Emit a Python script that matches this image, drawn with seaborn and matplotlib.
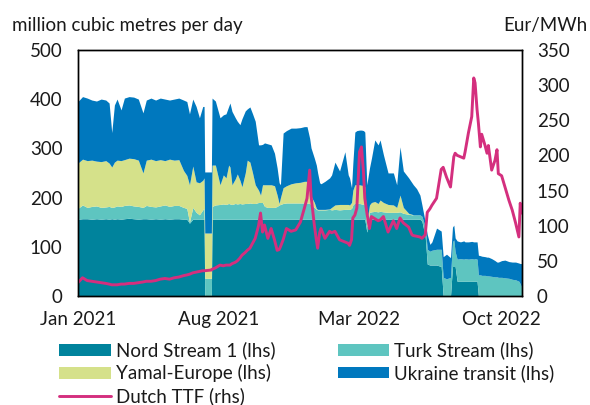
import numpy as np
import pandas as pd
import matplotlib
matplotlib.use("Agg")
import matplotlib.pyplot as plt
from matplotlib.patches import Patch
from matplotlib.lines import Line2D
import seaborn as sns

dates = [
    "2021-01-01", "2021-01-08", "2021-01-15", "2021-01-22", "2021-01-29", "2021-02-05", "2021-02-12",
    "2021-02-17", "2021-02-21", "2021-02-25", "2021-03-01", "2021-03-07", "2021-03-12", "2021-03-19",
    "2021-03-26", "2021-04-02", "2021-04-09", "2021-04-14", "2021-04-21", "2021-04-28", "2021-05-05",
    "2021-05-12", "2021-05-19", "2021-05-26", "2021-06-02", "2021-06-09", "2021-06-14", "2021-06-18",
    "2021-06-23", "2021-06-28", "2021-07-03", "2021-07-08", "2021-07-10", "2021-07-11", "2021-07-21",
    "2021-07-22", "2021-07-27", "2021-08-03", "2021-08-08", "2021-08-12", "2021-08-16", "2021-08-18",
    "2021-08-21", "2021-08-26", "2021-08-29", "2021-09-02", "2021-09-05", "2021-09-10", "2021-09-13",
    "2021-09-17", "2021-09-21", "2021-09-25", "2021-09-30", "2021-10-03", "2021-10-06", "2021-10-09",
    "2021-10-14", "2021-10-19", "2021-10-24", "2021-10-28", "2021-10-31", "2021-11-02", "2021-11-06",
    "2021-11-11", "2021-11-18", "2021-11-25", "2021-12-02", "2021-12-08", "2021-12-12", "2021-12-16",
    "2021-12-18", "2021-12-23", "2021-12-26", "2021-12-28", "2021-12-31",
    "2022-01-02", "2022-01-08", "2022-01-15", "2022-01-18", "2022-01-23", "2022-01-30", "2022-02-07",
    "2022-02-12", "2022-02-14", "2022-02-17", "2022-02-19", "2022-02-22", "2022-02-25", "2022-03-01",
    "2022-03-04", "2022-03-07", "2022-03-09", "2022-03-12", "2022-03-16", "2022-03-19", "2022-03-24",
    "2022-03-29", "2022-04-01", "2022-04-06", "2022-04-13", "2022-04-21", "2022-04-26", "2022-05-01",
    "2022-05-06", "2022-05-14", "2022-05-19", "2022-05-21", "2022-05-26", "2022-05-31", "2022-06-03",
    "2022-06-08", "2022-06-11", "2022-06-15", "2022-06-18", "2022-06-25", "2022-07-02", "2022-07-05",
    "2022-07-10", "2022-07-16", "2022-07-19", "2022-07-21", "2022-07-23", "2022-07-26", "2022-07-31",
    "2022-08-05", "2022-08-07", "2022-08-12", "2022-08-17", "2022-08-20", "2022-08-22", "2022-08-25",
    "2022-08-27", "2022-08-30", "2022-09-01", "2022-09-06", "2022-09-09", "2022-09-11", "2022-09-16",
    "2022-09-21", "2022-09-24", "2022-09-26", "2022-10-01", "2022-10-06", "2022-10-12", "2022-10-17",
    "2022-10-22", "2022-10-27", "2022-10-29", "2022-10-31",
]

# million cubic metres per day (lhs)
nord_stream_1 = [
    156, 157, 157, 156, 157, 156, 157, 156, 157, 156, 157, 156, 157, 158, 157, 156, 157, 157, 156, 157,
    156, 157, 156, 157, 157, 156, 156, 148, 156, 156, 156, 156, 156, 0, 0, 156, 156, 156, 156, 156,
    156, 156, 156, 156, 156, 156, 156, 156, 156, 156, 156, 156, 156, 156, 156, 156, 156, 156, 156, 156,
    156, 156, 156, 156, 156, 156, 156, 156, 156, 156, 156, 156, 156, 156, 156,
    156, 156, 156, 156, 156, 156, 156, 156, 156, 156, 156, 156, 156, 156, 156, 156, 156, 130, 150, 156,
    156, 156, 156, 156, 156, 156, 156, 156, 156, 156, 156, 156, 156, 156, 152, 120, 65, 63, 63, 63,
    60, 0, 0, 0, 60, 60, 60, 30, 30, 30, 30, 30, 30, 30, 30, 30, 0, 0, 0, 0,
    0, 0, 0, 0, 0, 0, 0, 0, 0, 0, 0, 0, 0, 0,
]
turk_stream = [
    22, 28, 23, 26, 26, 24, 24, 26, 23, 25, 26, 26, 27, 27, 26, 26, 23, 27, 26, 24,
    27, 28, 26, 27, 27, 24, 22, 2, 24, 14, 9, 19, 22, 36, 36, 26, 29, 30, 31, 30,
    32, 31, 30, 32, 31, 32, 31, 32, 32, 33, 32, 32, 34, 34, 34, 26, 24, 24, 24, 26,
    29, 30, 32, 33, 33, 33, 33, 33, 33, 32, 30, 24, 20, 19, 19,
    19, 19, 20, 19, 20, 19, 20, 20, 20, 22, 29, 33, 33, 32, 31, 30, 29, 10, 20, 15,
    16, 15, 16, 15, 14, 14, 14, 15, 12, 10, 9, 9, 9, 9, 10, 20, 30, 28, 30, 32,
    35, 38, 35, 38, 50, 54, 30, 45, 46, 45, 46, 45, 46, 45, 46, 45, 43, 43, 42, 42,
    41, 41, 40, 39, 39, 38, 38, 37, 36, 34, 33, 30, 25, 18,
]
yamal_europe = [
    92, 93, 95, 94, 91, 93, 94, 88, 82, 91, 93, 93, 93, 95, 96, 94, 70, 92, 96, 94,
    94, 90, 96, 92, 93, 75, 67, 76, 84, 62, 65, 60, 62, 92, 92, 84, 81, 40, 59, 54,
    78, 75, 40, 50, 61, 47, 35, 62, 88, 83, 62, 38, 25, 15, 36, 44, 46, 46, 44, 23,
    3, 14, 32, 35, 39, 41, 42, 44, 44, 22, 17, 10, 2, 1, 1,
    1, 1, 1, 5, 9, 11, 10, 10, 9, 12, 30, 37, 37, 38, 38, 39, 37, 10, 15, 19,
    20, 17, 23, 19, 16, 15, 10, 34, 12, 2, 1, 0, 0, 0, 0, 0, 0, 0, 0, 0,
    0, 0, 0, 0, 0, 0, 0, 0, 0, 0, 0, 0, 0, 0, 0, 0, 0, 0, 0, 0,
    0, 0, 0, 0, 0, 0, 0, 0, 0, 0, 0, 0, 0, 0,
]
ukraine_transit = [
    125, 127, 127, 122, 122, 127, 123, 122, 70, 116, 124, 103, 125, 125, 125, 124, 122, 122, 124, 123,
    125, 125, 120, 124, 125, 143, 150, 144, 136, 153, 132, 150, 145, 124, 124, 136, 130, 136, 122, 130,
    119, 130, 149, 124, 107, 113, 138, 126, 104, 112, 120, 129, 92, 102, 82, 85, 83, 81, 66, 55,
    42, 26, 111, 112, 113, 111, 111, 111, 111, 110, 98, 90, 88, 74, 54,
    52, 57, 63, 66, 87, 68, 107, 60, 55, 30, 55, 107, 110, 111, 112, 111, 111, 76, 75, 90,
    125, 119, 122, 97, 64, 65, 46, 98, 74, 72, 64, 61, 53, 40, 23, 10, 30, 14, 17, 43,
    37, 42, 50, 40, 30, 30, 28, 37, 34, 37, 34, 35, 35, 35, 34, 35, 40, 39, 39, 38,
    38, 38, 36, 33, 30, 31, 34, 36, 34, 35, 36, 37, 41, 48,
]
# Eur/MWh (rhs)
dutch_ttf = [
    19, 26, 22, 21, 20, 19, 18, 17, 16, 16, 16, 17, 17, 18, 18, 19, 20, 21, 21, 22,
    24, 25, 24, 26, 27, 29, 30, 31, 33, 34, 35, 36, 36, 36, 37, 38, 40, 44, 43, 44,
    44, 44, 46, 48, 50, 54, 58, 62, 65, 68, 75, 82, 100, 118, 91, 101, 82, 96, 80, 65,
    66, 70, 80, 96, 92, 94, 105, 125, 139, 179, 143, 101, 80, 68, 90,
    96, 82, 92, 90, 92, 80, 77, 75, 72, 80, 111, 115, 125, 205, 212, 176, 139, 119, 96, 113,
    110, 107, 108, 113, 91, 107, 96, 111, 104, 98, 87, 86, 85, 84, 82, 87, 119, 124, 129, 139,
    180, 183, 169, 155, 180, 198, 203, 200, 198, 196, 205, 232, 255, 310, 303, 265, 246, 212, 230, 214,
    203, 214, 179, 193, 208, 174, 171, 155, 136, 122, 104, 84, 132, 118,
]

x_ticks = ["2021-01-01", "2021-08-01", "2022-03-01", "2022-10-01"]
x_tick_labels = ["Jan 2021", "Aug 2021", "Mar 2022", "Oct 2022"]
left_ticks = [0, 100, 200, 300, 400, 500]
right_ticks = [0, 50, 100, 150, 200, 250, 300, 350]

series_names = ["Nord Stream 1 (lhs)", "Turk Stream (lhs)", "Yamal-Europe (lhs)", "Ukraine transit (lhs)"]
line_name = "Dutch TTF (rhs)"

df = pd.DataFrame({
    "date": pd.to_datetime(dates),
    "ns1": nord_stream_1,
    "turk": turk_stream,
    "yamal": yamal_europe,
    "ukr": ukraine_transit,
    "ttf": dutch_ttf,
})

sns.set_theme(style="white")
plt.rcParams["font.family"] = ["Lato", "DejaVu Sans"]
plt.rcParams["font.size"] = 13.5

colors = ["#00839C", "#5EC5C0", "#D5E18A", "#0078BE"]
ttf_color = "#D42F7E"
txt = "#1a1a1a"
TICK_FS = 13.5
TEXT_FS = 13.5

fig = plt.figure(figsize=(5.9, 4.05), dpi=100)
ax = fig.add_axes([0.132, 0.269, 0.752, 0.608])

ax.stackplot(df["date"], df["ns1"], df["turk"], df["yamal"], df["ukr"],
             colors=colors, linewidth=0)
ax.set_xlim(pd.Timestamp("2021-01-01"), pd.Timestamp("2022-10-31"))
ax.set_ylim(0, 500)
ax.set_yticks(left_ticks)
ax.set_xticks(pd.to_datetime(x_ticks))
ax.set_xticklabels(x_tick_labels)
ax.tick_params(axis="both", length=0, labelsize=TICK_FS, colors=txt)
ax.tick_params(axis="y", pad=11)
ax.tick_params(axis="x", pad=11)
ax.set_xlabel("")
ax.set_ylabel("")

ax2 = ax.twinx()
sns.lineplot(data=df, x="date", y="ttf", ax=ax2, color=ttf_color, linewidth=2.1)
ax2.set_ylim(0, 350)
ax2.set_yticks(right_ticks)
ax2.tick_params(axis="y", length=0, labelsize=TICK_FS, pad=11, colors=txt)
ax2.set_xlabel("")
ax2.set_ylabel("")
ax2.set_xlim(pd.Timestamp("2021-01-01"), pd.Timestamp("2022-10-31"))

for a in (ax, ax2):
    for s in a.spines.values():
        s.set_visible(True)
        s.set_color("black")
        s.set_linewidth(1.0)

fig.text(0.021, 0.937, "million cubic metres per day", fontsize=TEXT_FS, ha="left", va="center", color=txt)
fig.text(0.995, 0.937, "Eur/MWh", fontsize=TEXT_FS, ha="right", va="center", color=txt)

h = [Patch(facecolor=c, edgecolor="none") for c in colors]
hl = Line2D([0], [0], color=ttf_color, linewidth=2.1)
handles = [h[0], h[2], hl, h[1], h[3]]
labels = [series_names[0], series_names[2], line_name, series_names[1], series_names[3]]
fig.legend(handles, labels, loc="upper left", bbox_to_anchor=(0.1, 0.157), ncol=2,
           frameon=False, fontsize=TEXT_FS, handlelength=2.77, handleheight=0.6,
           handletextpad=0.27, columnspacing=3.3, labelspacing=0.26,
           borderpad=0, borderaxespad=0, labelcolor=txt)

fig.savefig("out.png", dpi=100)
